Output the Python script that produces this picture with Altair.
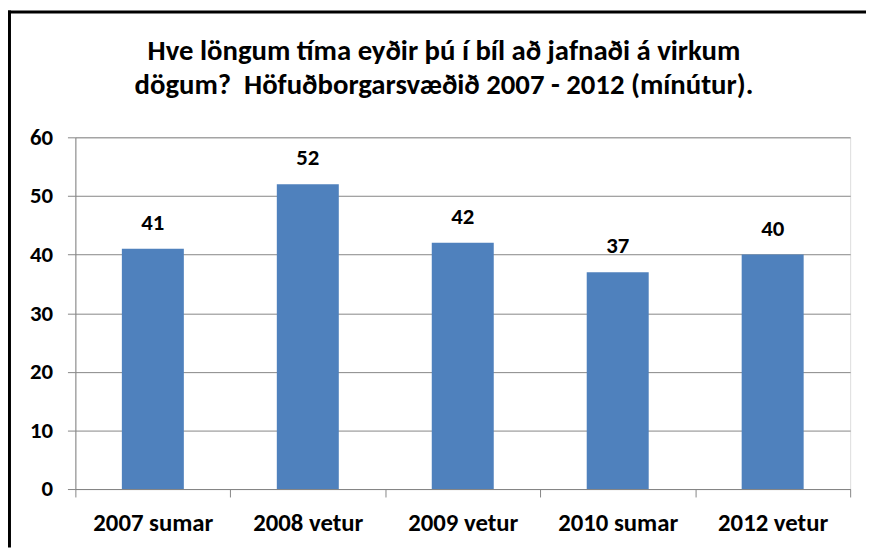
import altair as alt
import pandas as pd

categories = ["2007 sumar", "2008 vetur", "2009 vetur", "2010 sumar", "2012 vetur"]
values = [41, 52, 42, 37, 40]
y_ticks = [0, 10, 20, 30, 40, 50, 60]
title_lines = ["Hve löngum tíma eyðir þú í bíl að jafnaði á virkum",
               "dögum?\u00a0 Höfuðborgarsvæðið 2007 - 2012 (mínútur)."]

df = pd.DataFrame({"cat": categories, "val": values})

FONT = "Carlito, Lato, sans-serif"
W, H = 782, 355
PAD_L, PAD_T, PAD_R, PAD_B = 68, 128, 16, 59
GRID = "#868686"

x_enc = alt.X("cat:N", sort=categories, title=None,
              scale=alt.Scale(paddingInner=0, paddingOuter=0),
              axis=alt.Axis(labelAngle=0, labelFont=FONT, labelFontSize=25,
                            labelFontWeight="bold", labelColor="#000000",
                            labelPadding=14, tickBand="extent", tickSize=8,
                            tickColor=GRID, domainColor=GRID, grid=False))
y_enc = alt.Y("val:Q", title=None,
              scale=alt.Scale(domain=[0, 60], nice=False),
              axis=alt.Axis(values=y_ticks, labelFont=FONT, labelFontSize=23,
                            labelFontWeight="bold", labelColor="#000000",
                            labelPadding=15, tickSize=8, tickColor=GRID,
                            domainColor=GRID, gridColor=GRID, grid=True,
                            gridOpacity=1))

base = alt.Chart(df)
bars = base.mark_bar(color="#4F81BD", width=alt.RelativeBandSize(0.4)).encode(x=x_enc, y=y_enc)
labels = base.mark_text(font=FONT, fontSize=23, fontWeight="bold", color="#000000",
                        baseline="alphabetic", dy=-19).encode(
    x=alt.X("cat:N", sort=categories), y=alt.Y("val:Q"), text=alt.Text("val:Q"))

one = pd.DataFrame({"a": [0]})
top_border = alt.Chart(one).mark_rule(color="#000000", strokeWidth=3).encode(
    x=alt.value(-PAD_L), x2=alt.value(W + PAD_R), y=alt.value(-PAD_T + 1.5))
left_border = alt.Chart(one).mark_rule(color="#000000", strokeWidth=3).encode(
    x=alt.value(-PAD_L + 1.5), y=alt.value(-PAD_T), y2=alt.value(H + PAD_B))

chart = alt.layer(bars, labels, top_border, left_border).properties(
    width=W, height=H,
    autosize=alt.AutoSizeParams(type="none"),
    padding={"left": PAD_L, "top": PAD_T, "right": PAD_R, "bottom": PAD_B},
    title=alt.Title(title_lines, font=FONT, fontSize=29, fontWeight="bold",
                    color="#000000", lineHeight=35, anchor="middle", dx=-19,
                    offset=0, dy=92),
).configure_view(stroke=None).configure(background="#ffffff")

chart.save("out.html", embed_options={"renderer": "svg", "actions": False})
